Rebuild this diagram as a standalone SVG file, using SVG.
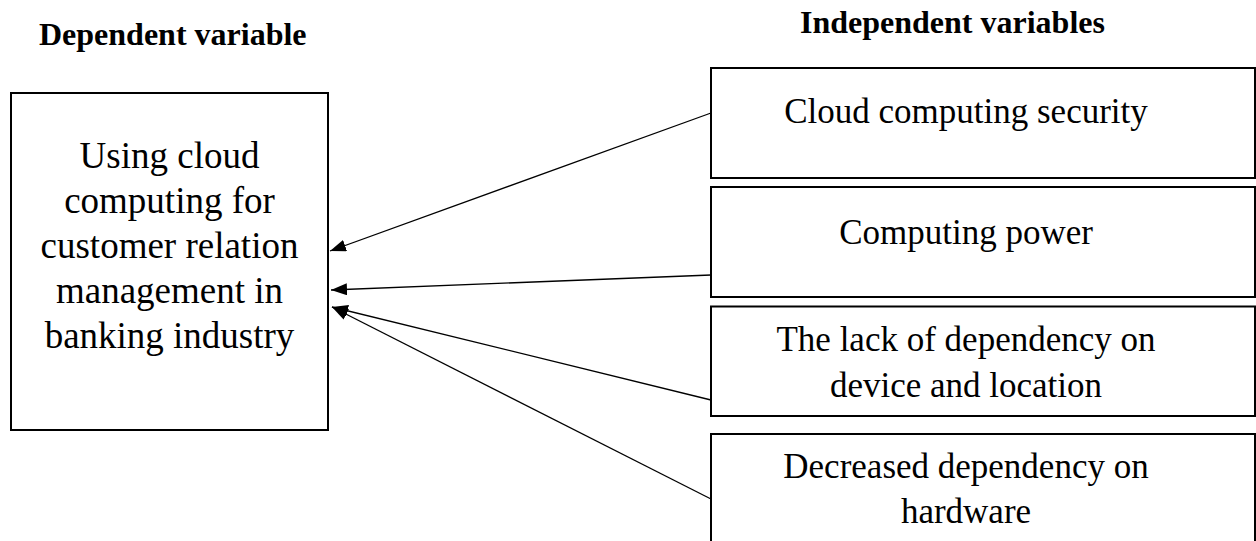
<svg xmlns="http://www.w3.org/2000/svg" width="1256" height="541" viewBox="0 0 1256 541">
<style>
.box{fill:#fff;stroke:#000;stroke-width:2}
.t{font-family:"Liberation Serif","Times New Roman",serif;font-size:35px;fill:#000;text-anchor:middle}
.tl{font-size:37px}
.h{font-family:"Liberation Serif","Times New Roman",serif;font-size:32px;font-weight:bold;fill:#000}
.c{stroke:#000;stroke-width:1.3;fill:none;marker-end:url(#ah)}
</style>
<defs>
<marker id="ah" markerUnits="userSpaceOnUse" markerWidth="17" markerHeight="13" refX="16" refY="6" orient="auto">
<path d="M0,0 L16,6 L0,12 z" fill="#000"/>
</marker>
</defs>
<rect width="1256" height="541" fill="#fff"/>
<g id="headings">
<text class="h" x="39" y="45">Dependent variable</text>
<text class="h" x="800" y="33">Independent variables</text>
</g>
<g id="dependent">
<rect class="box" x="11" y="93" width="317" height="337"/>
<text class="t tl" x="169.5" y="168">Using cloud</text>
<text class="t tl" x="169.5" y="213">computing for</text>
<text class="t tl" x="169.5" y="258">customer relation</text>
<text class="t tl" x="169.5" y="303">management in</text>
<text class="t tl" x="169.5" y="348">banking industry</text>
</g>
<g id="security">
<rect class="box" x="711" y="68" width="544" height="110"/>
<text class="t" x="966" y="123">Cloud computing security</text>
</g>
<g id="power">
<rect class="box" x="711" y="187" width="544" height="110"/>
<text class="t" x="966" y="244">Computing power</text>
</g>
<g id="location">
<rect class="box" x="711" y="306.5" width="544" height="109.5"/>
<text class="t" x="966" y="351">The lack of dependency on</text>
<text class="t" x="966" y="397">device and location</text>
</g>
<g id="hardware">
<rect class="box" x="711" y="434" width="544" height="130"/>
<text class="t" x="966" y="478">Decreased dependency on</text>
<text class="t" x="966" y="523">hardware</text>
</g>
<g id="connectors">
<line class="c" x1="711" y1="113" x2="330" y2="251"/>
<line class="c" x1="711" y1="275" x2="331" y2="290"/>
<line class="c" x1="711" y1="400" x2="332" y2="307"/>
<line class="c" x1="711" y1="499" x2="332" y2="307"/>
</g>
</svg>
